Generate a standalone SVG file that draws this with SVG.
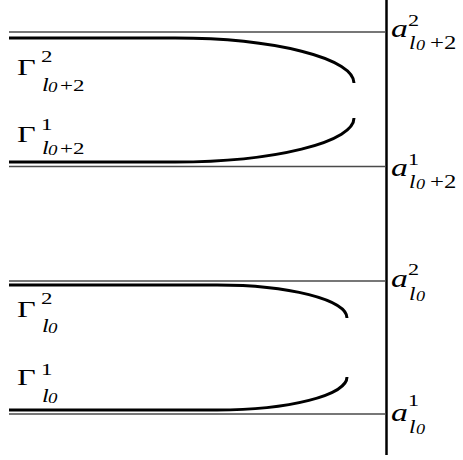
<svg xmlns="http://www.w3.org/2000/svg" width="463" height="460" viewBox="0 0 463 460">
<style>
.thin{stroke:#4a4a4a;stroke-width:1.6;fill:none}
.thick{stroke:#000;stroke-width:3;fill:none}
.axis{stroke:#000;stroke-width:2.5}
</style>
<rect width="463" height="460" fill="#fff"/>
<g id="axis">
<line class="axis" x1="386.5" y1="0" x2="386.5" y2="455"/>
</g>
<g id="levels">
<line class="thin" x1="9" y1="32" x2="386" y2="32"/>
<line class="thin" x1="9" y1="166.5" x2="386" y2="166.5"/>
<line class="thin" x1="9" y1="281" x2="386" y2="281"/>
<line class="thin" x1="9" y1="414" x2="386" y2="414"/>
</g>
<g id="curves">
<path class="thick" d="M9,38 H175 A179,45 0 0 1 354,83"/>
<path class="thick" d="M9,162 H175 A179,44 0 0 0 354,118"/>
<path class="thick" d="M9,285 H217 A130,33 0 0 1 347,318"/>
<path class="thick" d="M9,410 H217 A130,33 0 0 0 347,377"/>
</g>
<g id="labels" font-family="'Liberation Serif', 'Times New Roman', serif" fill="#000">
<g id="label-G2-top" transform="matrix(1.35,0,0,1,17,0)">
<text font-size="24" x="0" y="75">Γ</text>
<text font-size="17" x="17.8" y="62">2</text>
<text font-size="18" font-style="italic" x="18.5" y="91">l</text><text font-size="14" font-style="italic" x="23" y="92">0</text><text font-size="17" x="31.9" y="91">+2</text>
</g>
<g id="label-G1-top" transform="matrix(1.35,0,0,1,17,0)">
<text font-size="24" x="0" y="142">Γ</text>
<text font-size="17" x="17.8" y="130">1</text>
<text font-size="18" font-style="italic" x="18.5" y="154">l</text><text font-size="14" font-style="italic" x="23" y="155">0</text><text font-size="17" x="31.9" y="154">+2</text>
</g>
<g id="label-G2-bot" transform="matrix(1.35,0,0,1,17,0)">
<text font-size="24" x="0" y="317">Γ</text>
<text font-size="17" x="17.8" y="304">2</text>
<text font-size="18" font-style="italic" x="18.5" y="332">l</text><text font-size="14" font-style="italic" x="23" y="333">0</text>
</g>
<g id="label-G1-bot" transform="matrix(1.35,0,0,1,17,0)">
<text font-size="24" x="0" y="385">Γ</text>
<text font-size="17" x="17.8" y="375">1</text>
<text font-size="18" font-style="italic" x="18.5" y="402">l</text><text font-size="14" font-style="italic" x="23" y="403">0</text>
</g>
<g id="label-a2-top" transform="matrix(1.3,0,0,1,391,0)">
<text font-size="26" font-style="italic" x="0" y="37">a</text>
<text font-size="17" x="13" y="26">2</text>
<text font-size="18" font-style="italic" x="13.8" y="49">l</text><text font-size="14" font-style="italic" x="19.2" y="50">0</text><text font-size="19" x="30" y="49">+2</text>
</g>
<g id="label-a1-top" transform="matrix(1.3,0,0,1,391,0)">
<text font-size="26" font-style="italic" x="0" y="176">a</text>
<text font-size="17" x="13" y="165">1</text>
<text font-size="18" font-style="italic" x="13.8" y="188">l</text><text font-size="14" font-style="italic" x="19.2" y="189">0</text><text font-size="19" x="30" y="188">+2</text>
</g>
<g id="label-a2-bot" transform="matrix(1.3,0,0,1,391,0)">
<text font-size="26" font-style="italic" x="0" y="287">a</text>
<text font-size="17" x="13" y="275">2</text>
<text font-size="18" font-style="italic" x="13.8" y="300">l</text><text font-size="14" font-style="italic" x="19.2" y="301">0</text>
</g>
<g id="label-a1-bot" transform="matrix(1.3,0,0,1,391,0)">
<text font-size="26" font-style="italic" x="0" y="421.5">a</text>
<text font-size="17" x="13" y="406">1</text>
<text font-size="18" font-style="italic" x="13.8" y="433">l</text><text font-size="14" font-style="italic" x="19.2" y="434">0</text>
</g>
</g>
</svg>
